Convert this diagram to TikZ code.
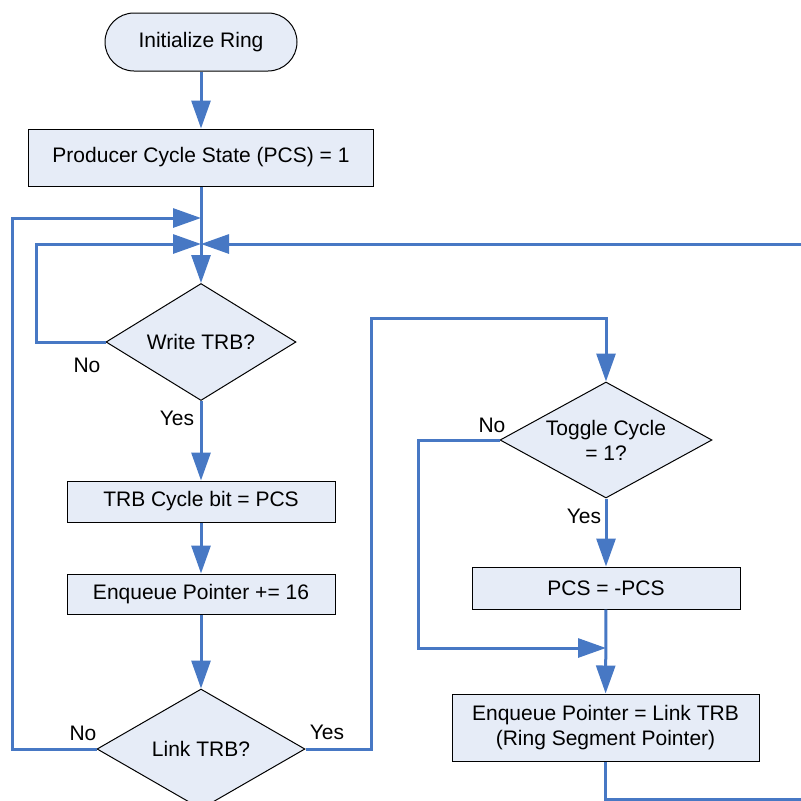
\documentclass[tikz,border=0pt]{standalone}
\usepackage{fontspec}
\setmainfont{Liberation Sans}
\usetikzlibrary{arrows.meta,shapes.geometric}
\definecolor{flowblue}{RGB}{71,120,196}
\definecolor{boxfill}{RGB}{230,236,247}
\begin{document}
\begin{tikzpicture}[x=1pt,y=-1pt,
    font=\fontsize{21}{25}\selectfont,
    proc/.style={draw=black, line width=1pt, fill=boxfill, inner sep=0pt, align=center},
    term/.style={proc, rounded corners=29pt},
    decide/.style={proc, diamond, aspect=1.8},
    lbl/.style={inner sep=0pt},
    flow/.style={draw=flowblue, line width=3pt, -{Triangle[length=28pt,width=19pt]}},
    wire/.style={draw=flowblue, line width=3pt}]
    \useasboundingbox (0,0) rectangle (801,801);
    \node[term, minimum width=192pt, minimum height=58pt] (init) at (201,42) {Initialize Ring};
    \node[proc, minimum width=345pt, minimum height=57pt] (pcs) at (201,157.5) {Producer Cycle State (PCS) = 1};
    \node[decide, minimum width=190pt, minimum height=117pt] (write) at (201,342) {Write TRB?};
    \node[proc, minimum width=268pt, minimum height=41pt] (trb) at (201,501.5) {TRB Cycle bit = PCS};
    \node[proc, minimum width=268pt, minimum height=40pt] (enq) at (201,594) {Enqueue Pointer += 16};
    \node[decide, minimum width=208pt, minimum height=120pt] (linktrb) at (201,749) {Link TRB?};
    \node[decide, minimum width=212pt, minimum height=116pt] (toggle) at (606,440) {Toggle Cycle\\= 1?};
    \node[proc, minimum width=268pt, minimum height=42pt] (neg) at (606,588) {PCS = -PCS};
    \node[proc, minimum width=307pt, minimum height=67pt] (segptr) at (605.5,727.5) {Enqueue Pointer = Link TRB\\(Ring Segment Pointer)};
    \coordinate (j1) at (201,218);
    \coordinate (j2) at (201,244);
    \coordinate (j3) at (606,648);
    \coordinate (t1) at (371,318);
    \coordinate (loopin) at (801,244);
    \coordinate (loopout) at (801,799);
    \draw[flow] (init) -- (pcs);
    \draw[flow] (pcs) -- (write);
    \draw[flow] (write.west) -| ([xshift=-165pt]j2) -- (j2);
    \draw[flow] (loopin) -- (j2);
    \draw[flow] (write) -- (trb);
    \draw[flow] (trb) -- (enq);
    \draw[flow] (enq) -- (linktrb);
    \draw[flow] (linktrb.west) -| ([xshift=-189pt]j1) -- (j1);
    \draw[flow] (linktrb.east) -| (t1) -| (toggle.north);
    \draw[flow] (toggle.west) -| ([xshift=-188pt]j3) -- (j3);
    \draw[flow] (toggle) -- (neg);
    \draw[flow] (neg) -- (segptr);
    \draw[wire] (segptr.south) |- (loopout);
    \node[lbl] (nowrite) at (87,365) {No};
    \node[lbl] (yeswrite) at (177,418) {Yes};
    \node[lbl] (nolink) at (83,733) {No};
    \node[lbl] (yeslink) at (327,732) {Yes};
    \node[lbl] (notoggle) at (492,425) {No};
    \node[lbl] (yestoggle) at (584,516) {Yes};
\end{tikzpicture}
\end{document}
